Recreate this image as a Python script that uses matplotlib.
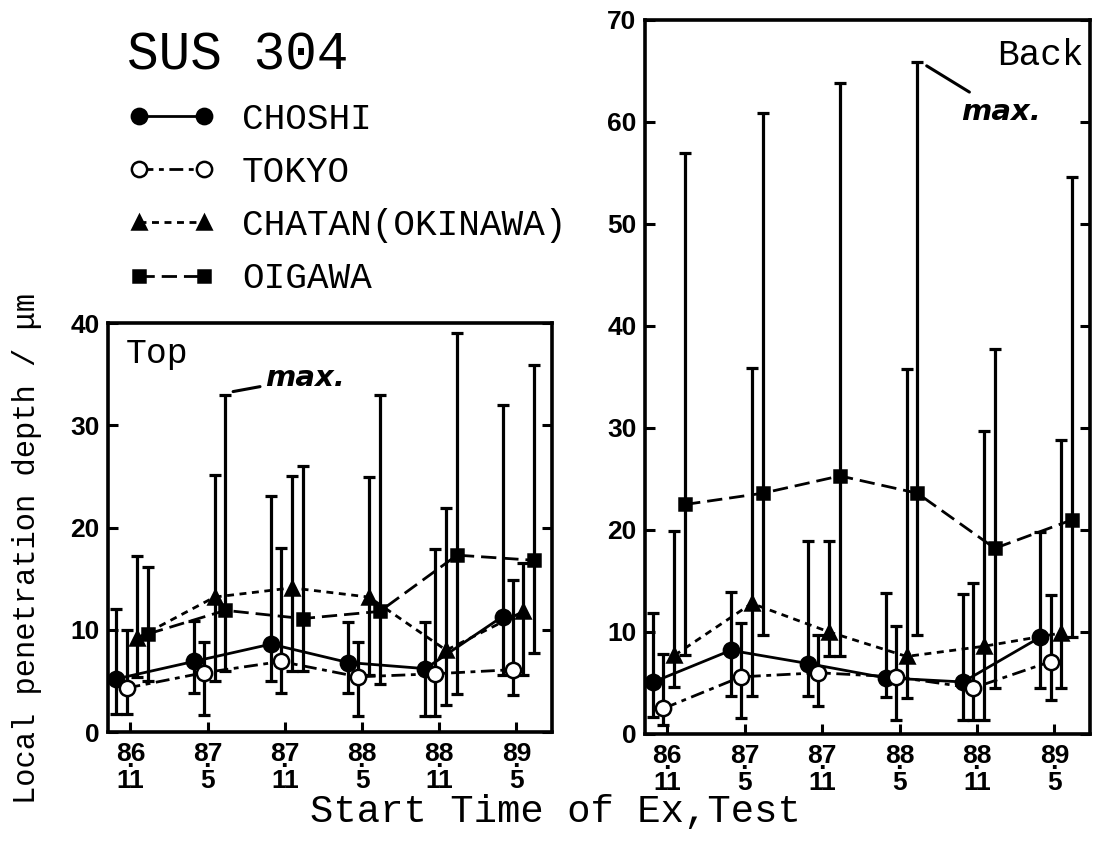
import matplotlib
matplotlib.use("Agg")
import matplotlib.pyplot as plt
from matplotlib.font_manager import FontProperties
import numpy as np

plt.rcParams["lines.scale_dashes"] = False

# ---------------- data ----------------
years = ["86", "87", "87", "88", "88", "89"]
months = ["11", "5", "11", "5", "11", "5"]
series_names = ["CHOSHI", "TOKYO", "CHATAN(OKINAWA)", "OIGAWA"]

# Top panel (mean, min, max)
top_choshi_mean = [5.2, 6.9, 8.6, 6.8, 6.2, 11.3]
top_choshi_min = [1.8, 3.8, 5.0, 3.8, 1.6, 5.6]
top_choshi_max = [12.0, 10.9, 23.1, 10.8, 10.8, 32.0]

top_tokyo_mean = [4.3, 5.8, 6.9, 5.4, 5.7, 6.1]
top_tokyo_min = [1.8, 1.7, 3.8, 1.6, 1.6, 3.6]
top_tokyo_max = [10.0, 8.8, 18.0, 8.8, 17.9, 14.9]

top_chatan_mean = [9.2, 13.2, 14.1, 13.2, 8.0, 11.8]
top_chatan_min = [5.4, 5.0, 6.0, 5.6, 2.6, 5.6]
top_chatan_max = [17.2, 25.1, 25.0, 24.9, 21.9, 16.5]

top_oigawa_mean = [9.6, 11.9, 11.1, 11.8, 17.3, 16.8]
top_oigawa_min = [5.0, 6.0, 6.0, 4.7, 3.7, 7.7]
top_oigawa_max = [16.1, 33.0, 26.0, 33.0, 39.0, 35.9]

# Back panel (mean, min, max)
back_choshi_mean = [5.1, 8.2, 6.9, 5.5, 5.1, 9.5]
back_choshi_min = [1.7, 3.7, 3.7, 3.6, 1.4, 4.5]
back_choshi_max = [11.9, 13.9, 18.9, 13.8, 13.7, 19.8]

back_tokyo_mean = [2.5, 5.6, 6.0, 5.6, 4.5, 7.1]
back_tokyo_min = [0.9, 1.6, 2.7, 1.4, 1.4, 3.3]
back_tokyo_max = [7.8, 10.9, 9.7, 10.6, 14.8, 13.6]

back_chatan_mean = [7.7, 12.8, 10.0, 7.6, 8.6, 9.9]
back_chatan_min = [4.6, 3.7, 7.6, 3.5, 1.4, 4.5]
back_chatan_max = [19.9, 35.9, 18.9, 35.8, 29.7, 28.8]

back_oigawa_mean = [22.5, 23.6, 25.3, 23.6, 18.2, 21.0]
back_oigawa_min = [7.7, 9.7, 7.6, 9.7, 4.5, 9.5]
back_oigawa_max = [57.0, 60.9, 63.8, 65.9, 37.7, 54.6]

top_data = [
    (top_choshi_mean, top_choshi_min, top_choshi_max),
    (top_tokyo_mean, top_tokyo_min, top_tokyo_max),
    (top_chatan_mean, top_chatan_min, top_chatan_max),
    (top_oigawa_mean, top_oigawa_min, top_oigawa_max),
]
back_data = [
    (back_choshi_mean, back_choshi_min, back_choshi_max),
    (back_tokyo_mean, back_tokyo_min, back_tokyo_max),
    (back_chatan_mean, back_chatan_min, back_chatan_max),
    (back_oigawa_mean, back_oigawa_min, back_oigawa_max),
]

# ---------------- styles ----------------
styles = [
    dict(ls="-", marker="o", mfc="black", ms=11),
    dict(ls=(0, (10, 4, 3.5, 4)), marker="o", mfc="white", ms=11),
    dict(ls=(0, (5, 4)), marker="^", mfc="black", ms=10),
    dict(ls=(0, (11, 5)), marker="s", mfc="black", ms=9),
]
offsets = [-0.18, -0.05, 0.09, 0.23]

mono = "Liberation Mono"
tickfont = dict(family="Liberation Sans", weight="bold", size=19)

fig = plt.figure(figsize=(11.1, 8.42), dpi=100)
ax_top = fig.add_axes([0.0973, 0.1306, 0.400, 0.4857])
ax_back = fig.add_axes([0.581, 0.1283, 0.401, 0.848])

x = np.arange(len(years))
xlabels = [f"{yy}\n·\n{mm}" for yy, mm in zip(years, months)]

handles = []
for ax, data, ymax in [(ax_top, top_data, 40), (ax_back, back_data, 70)]:
    for i, ((mean, lo, hi), st) in enumerate(zip(data, styles)):
        xs = x + offsets[i]
        mean = np.array(mean)
        lo = np.array(lo)
        hi = np.array(hi)
        ax.errorbar(xs, mean, yerr=[mean - lo, hi - mean], fmt="none",
                    ecolor="black", elinewidth=2.3, capsize=4, capthick=2.3,
                    zorder=2)
        ln, = ax.plot(xs, mean, color="black", lw=2.0, linestyle=st["ls"],
                      marker=st["marker"], ms=st["ms"], mfc=st["mfc"],
                      mec="black", mew=1.8, zorder=3)
        if ax is ax_top:
            handles.append(ln)
    ax.set_xlim(-0.29, 5.46)
    ax.set_ylim(0, ymax)
    ax.set_xticks(x)
    ax.set_xticklabels(xlabels, linespacing=0.45, **tickfont)
    ax.set_yticks(np.arange(0, ymax + 1, 10))
    ax.set_yticklabels([str(v) for v in range(0, ymax + 1, 10)], **tickfont)
    ax.tick_params(axis="both", direction="in", length=7, width=2.2)
    ax.tick_params(axis="y", right=True, pad=6)
    ax.tick_params(axis="x", pad=7)
    for sp in ax.spines.values():
        sp.set_linewidth(2.6)

# panel labels
ax_top.text(0.04, 0.965, "Top", transform=ax_top.transAxes, ha="left", va="top",
            family=mono, fontsize=25)
ax_back.text(0.985, 0.975, "Back", transform=ax_back.transAxes, ha="right", va="top",
             family=mono, fontsize=26)

# max. annotations
ax_top.annotate("max.", xy=(1.33, 33.3), xytext=(1.75, 34.6), ha="left", va="center",
                fontsize=21, fontweight="bold", fontstyle="italic",
                arrowprops=dict(arrowstyle="-", lw=2.2, color="black",
                                shrinkA=2, shrinkB=0))
ax_back.annotate("max.", xy=(3.35, 65.5), xytext=(3.8, 61.0), ha="left", va="center",
                 fontsize=21, fontweight="bold", fontstyle="italic",
                 arrowprops=dict(arrowstyle="-", lw=2.2, color="black",
                                 shrinkA=4, shrinkB=0))

# title and legend
fig.text(127 / 1110, 1 - 55 / 842, "SUS 304", ha="left", va="center",
         family=mono, fontsize=38)
fig.legend(handles, series_names, loc="upper left",
           bbox_to_anchor=(128 / 1110, 1 - 102 / 842), frameon=False,
           prop=FontProperties(family=mono, size=26), numpoints=2,
           handlelength=2.4, handletextpad=0.75, labelspacing=0.5,
           borderaxespad=0, borderpad=0)

# axis labels
fig.text(27 / 1110, 1 - 548 / 842, "Local penetration depth / μm", rotation=90,
         ha="center", va="center", family=mono, fontsize=22)
fig.text(555 / 1110, 1 - 812 / 842, "Start Time of Ex,Test", ha="center", va="center",
         family=mono, fontsize=28)

fig.savefig("out.png", dpi=100)
